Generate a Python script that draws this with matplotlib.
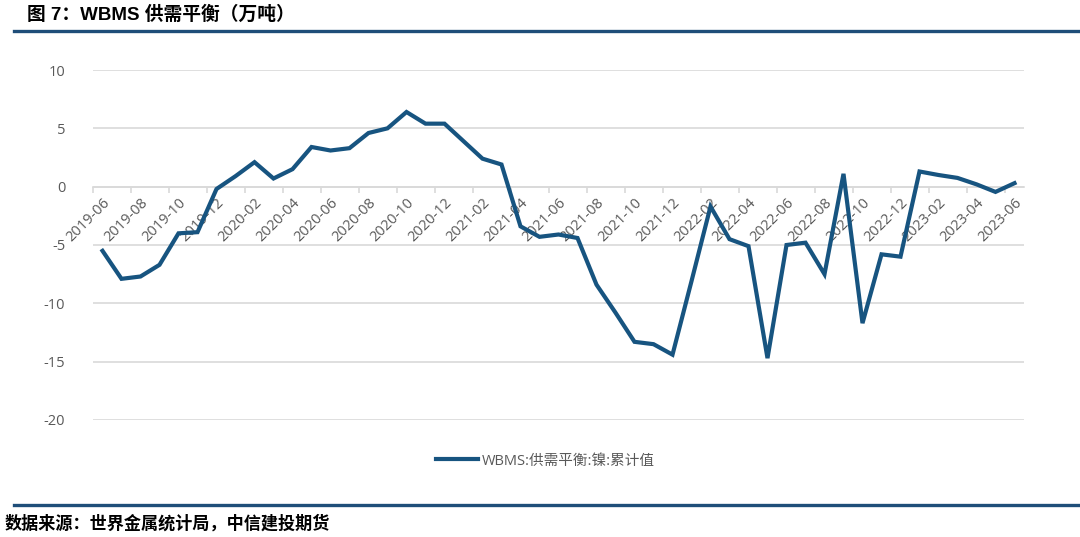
import matplotlib
matplotlib.use("Agg")
import matplotlib.pyplot as plt
from matplotlib.lines import Line2D

# WBMS nickel supply/demand balance, cumulative (10k t), monthly 2019-06 .. 2023-06
balance = [
    -5.5, -7.9, -7.7, -6.7, -4.0, -3.9, -0.2, 0.9, 2.1, 0.7,
    1.5, 3.4, 3.1, 3.3, 4.6, 5.0, 6.4, 5.4, 5.4, 3.9,
    2.4, 1.9, -3.4, -4.3, -4.1, -4.4, -8.4, -10.8, -13.3, -13.5,
    -14.4, -8.1, -1.7, -4.5, -5.1, -14.7, -5.0, -4.8, -7.5, 1.1,
    -11.7, -5.8, -6.0, 1.3, 1.0, 0.75, 0.2, -0.45, 0.3,
]
start_year, start_month = 2019, 6
month_labels = []
for i in range(len(balance)):
    m = start_month - 1 + i
    month_labels.append(f"{start_year + m // 12}-{m % 12 + 1:02d}")

y_ticks = [10, 5, 0, -5, -10, -15, -20]
series_name = "WBMS:供需平衡:镍:累计值"
title = "图 7：WBMS 供需平衡（万吨）"
source = "数据来源：世界金属统计局，中信建投期货"

LINE_COLOR = "#175480"
RULE_COLOR = "#1F4E79"
GRID_COLOR = "#d9d9d9"
TEXT_GRAY = "#595959"

plt.rcParams["font.family"] = ["Open Sans", "Noto Sans CJK SC", "DejaVu Sans"]

W, H = 1080, 537
fig = plt.figure(figsize=(W / 100, H / 100), dpi=100)
ax = fig.add_axes([93 / W, 1 - 420 / H, (1024 - 93) / W, (420 - 70) / H])

x = list(range(len(balance)))
ax.plot(x, balance, color=LINE_COLOR, lw=3.0, solid_joinstyle="miter", zorder=3)

ax.set_xlim(-0.5, len(balance) - 0.5)
ax.set_ylim(-20, 10)
ax.set_yticks(y_ticks)
ax.set_yticklabels([str(v) for v in y_ticks], fontsize=10.5, color=TEXT_GRAY)
ax.yaxis.grid(True, color=GRID_COLOR, lw=1.2, zorder=0)
ax.tick_params(axis="y", length=0, pad=20)

for s in ["top", "right", "left"]:
    ax.spines[s].set_visible(False)
ax.spines["bottom"].set_position(("data", 0))
ax.spines["bottom"].set_color(GRID_COLOR)
ax.spines["bottom"].set_linewidth(1.2)

ax.set_xticks(x[::2])
ax.set_xticklabels(month_labels[::2], rotation=45, ha="right",
                   rotation_mode="anchor", fontsize=10.5, color=TEXT_GRAY)
ax.set_xticks([i - 0.5 for i in range(0, len(balance) + 1, 2)], minor=True)
ax.tick_params(axis="x", which="major", length=0, pad=6)
ax.tick_params(axis="x", which="minor", length=4, color=GRID_COLOR, width=1.2)

# legend under the plot
handle = Line2D([0], [0], color=LINE_COLOR, lw=3.0)
fig.legend([handle], [series_name], loc="center",
           bbox_to_anchor=(545 / W, 1 - 461 / H), frameon=False,
           fontsize=10.5, handlelength=2.9, handletextpad=0.25,
           labelcolor=TEXT_GRAY)

# title and source with rules
fig.text(27 / W, 1 - 15 / H, title, fontsize=13.5, fontweight="bold",
         va="center", ha="left", family=["Liberation Sans", "Noto Sans CJK SC"])
fig.add_artist(Line2D([14 / W, 1], [1 - 31 / H] * 2, color=RULE_COLOR, lw=2.4))
fig.add_artist(Line2D([14 / W, 1], [1 - 505 / H] * 2, color=RULE_COLOR, lw=2.4))
fig.text(5 / W, 1 - 524 / H, source, fontsize=12.3, fontweight="bold",
         style="italic", va="center", ha="left",
         family=["Noto Sans CJK SC"])

fig.savefig("out.png", dpi=100)
